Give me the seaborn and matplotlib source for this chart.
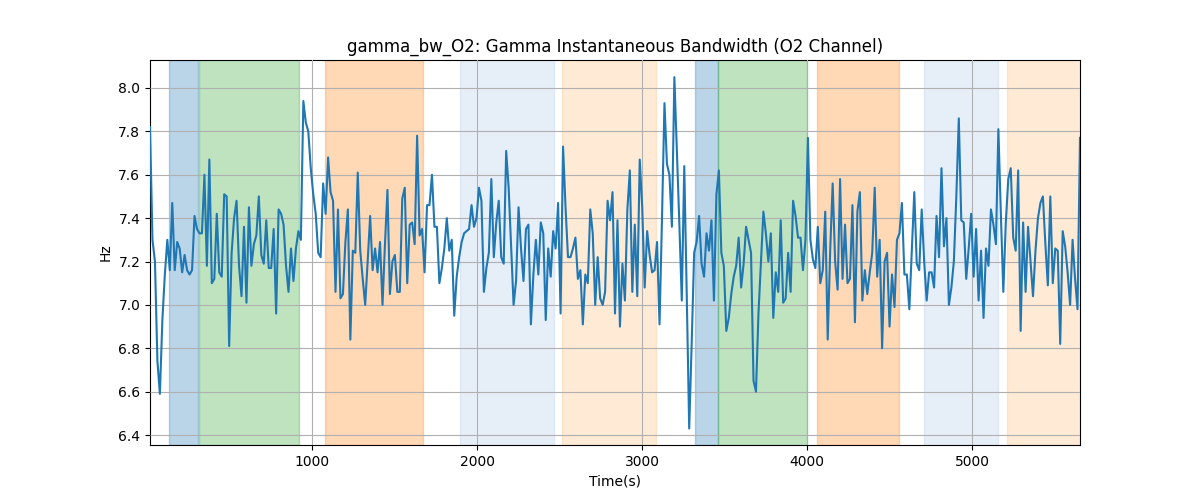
import numpy as np
import matplotlib
matplotlib.use("Agg")
import matplotlib.pyplot as plt
import seaborn as sns

# Time range of the samples (seconds)
time_start = 15.0
time_end = 5655.0

# Gamma instantaneous bandwidth (Hz)
bandwidth_hz = [
    7.82, 7.30, 7.20, 6.74, 6.59, 6.93, 7.14, 7.30, 7.16, 7.47,
    7.16, 7.29, 7.26, 7.15, 7.23, 7.16, 7.14, 7.16, 7.41, 7.35, 7.33,
    7.33, 7.60, 7.18, 7.67, 7.10, 7.12, 7.42, 7.15, 7.13, 7.51,
    7.50, 6.81, 7.24, 7.40, 7.48, 7.18, 7.04, 7.36, 7.01, 7.45, 7.18,
    7.28, 7.32, 7.50, 7.23, 7.19, 7.39, 7.17,
    7.17, 7.35, 6.96, 7.44, 7.42, 7.37, 7.18, 7.06, 7.26, 7.11,
    7.26, 7.34, 7.30, 7.94, 7.84, 7.80, 7.63, 7.51, 7.42, 7.24,
    7.22, 7.56, 7.42, 7.68, 7.52, 7.48, 7.06, 7.44, 7.03, 7.05,
    7.29, 7.44, 6.84, 7.25, 7.24, 7.61, 7.25, 7.12, 7.00, 7.20,
    7.41, 7.16, 7.26, 7.15, 7.29, 7.00,
    7.28, 7.53, 7.05, 7.20, 7.23, 7.06, 7.06, 7.49, 7.54, 7.10,
    7.37, 7.38, 7.28, 7.78, 7.32, 7.35, 7.15, 7.46, 7.46, 7.60,
    7.36, 7.36, 7.10, 7.17, 7.26, 7.40, 7.25, 7.30, 6.95, 7.13,
    7.22, 7.29, 7.33, 7.34, 7.35, 7.46, 7.36, 7.40, 7.54, 7.48,
    7.06, 7.17, 7.24, 7.58, 7.22, 7.38, 7.48,
    7.22, 7.19, 7.71, 7.54, 7.27, 7.00, 7.11, 7.45, 7.26, 7.11,
    7.35, 7.37, 6.91, 7.14, 7.30, 7.14, 7.38, 7.33, 6.93, 7.26,
    7.13, 7.34, 7.26, 7.47, 6.96, 7.73, 7.45, 7.22, 7.22, 7.26,
    7.31, 7.12, 7.16, 6.91, 7.14, 7.10, 7.44, 7.33, 7.00, 7.22,
    7.03, 7.00, 7.06, 7.48, 7.39, 7.52, 6.96,
    7.39, 6.90, 7.19, 7.02, 7.44, 7.62, 7.06, 7.37, 7.04, 7.67,
    7.45, 7.08, 7.34, 7.23, 7.15, 7.16, 7.29, 6.91, 7.40, 7.93,
    7.65, 7.60, 7.36, 8.05, 7.72, 7.38, 7.02, 7.64, 7.05, 6.43,
    6.82, 7.24, 7.29, 7.41, 7.19, 7.13, 7.33, 7.25, 7.39, 7.02,
    7.51, 7.62, 7.24, 7.18, 6.88, 6.94, 7.05,
    7.13, 7.18, 7.31, 7.08, 7.19, 7.36, 7.30, 7.24, 6.65, 6.60,
    6.96, 7.20, 7.43, 7.33, 7.20, 7.33, 6.94, 7.15, 7.06, 7.39,
    7.01, 7.03, 7.24, 7.06, 7.48, 7.41, 7.31, 7.31, 7.16, 7.30,
    7.77, 7.30, 7.21, 7.17, 7.36, 7.10, 7.16, 7.43, 6.84, 7.25,
    7.56, 7.20, 7.07, 7.58, 7.12, 7.37, 7.10,
    7.12, 7.46, 6.92, 7.43, 7.52, 7.02, 7.16, 7.05, 7.15, 7.24,
    7.54, 7.13, 7.30, 6.80, 7.20, 7.24, 6.90, 7.14, 6.99, 7.30,
    7.33, 7.47, 7.14, 7.14, 6.98, 7.25, 7.52, 7.19, 7.16, 7.44,
    7.20, 7.02, 7.15, 7.15, 7.08, 7.41, 7.22, 7.63, 7.27, 7.40,
    7.00, 7.08, 7.20, 7.50, 7.86, 7.39, 7.38,
    7.12, 7.26, 7.42, 7.13, 7.35, 7.02, 7.25, 6.94, 7.26, 7.18,
    7.44, 7.37, 7.28, 7.81, 7.42, 7.06, 7.38, 7.58, 7.63, 7.31,
    7.25, 7.62, 6.88, 7.38, 7.06, 7.36, 7.20, 7.04, 7.25, 7.40,
    7.47, 7.50, 7.28, 7.09, 7.50, 7.10, 7.26, 7.25, 6.82, 7.34,
    7.27, 7.15, 7.00, 7.30, 7.12, 6.98, 7.77,
]

# Shaded epochs: (start s, end s)
span_starts = [132, 314, 1079, 1898, 2511, 3319, 3460, 4059, 4709, 5213]
span_ends = [308, 919, 1672, 2463, 3086, 3460, 4000, 4555, 5158, 5700]
span_colors = ["#1f77b4", "#2ca02c", "#ff7f0e", "#aec7e8", "#ffbb78",
               "#1f77b4", "#2ca02c", "#ff7f0e", "#aec7e8", "#ffbb78"]

title = "gamma_bw_O2: Gamma Instantaneous Bandwidth (O2 Channel)"
x_label = "Time(s)"
y_label = "Hz"

time_s = np.linspace(time_start, time_end, len(bandwidth_hz))

fig, ax = plt.subplots(figsize=(12, 5), dpi=100)

for s, e, c in zip(span_starts, span_ends, span_colors):
    ax.axvspan(s, e, color=c, alpha=0.3, zorder=0)

sns.lineplot(x=time_s, y=bandwidth_hz, ax=ax, color="#1f77b4", linewidth=1.5, zorder=3)

ax.set_xlim(time_s[0], time_s[-1])
ax.set_ylim(6.354, 8.129)
ax.grid(True, color="#b0b0b0", linewidth=0.8)
ax.set_axisbelow(False)
ax.set_title(title, fontsize=12)
ax.set_xlabel(x_label)
ax.set_ylabel(y_label)

fig.savefig("out.png", dpi=100)
